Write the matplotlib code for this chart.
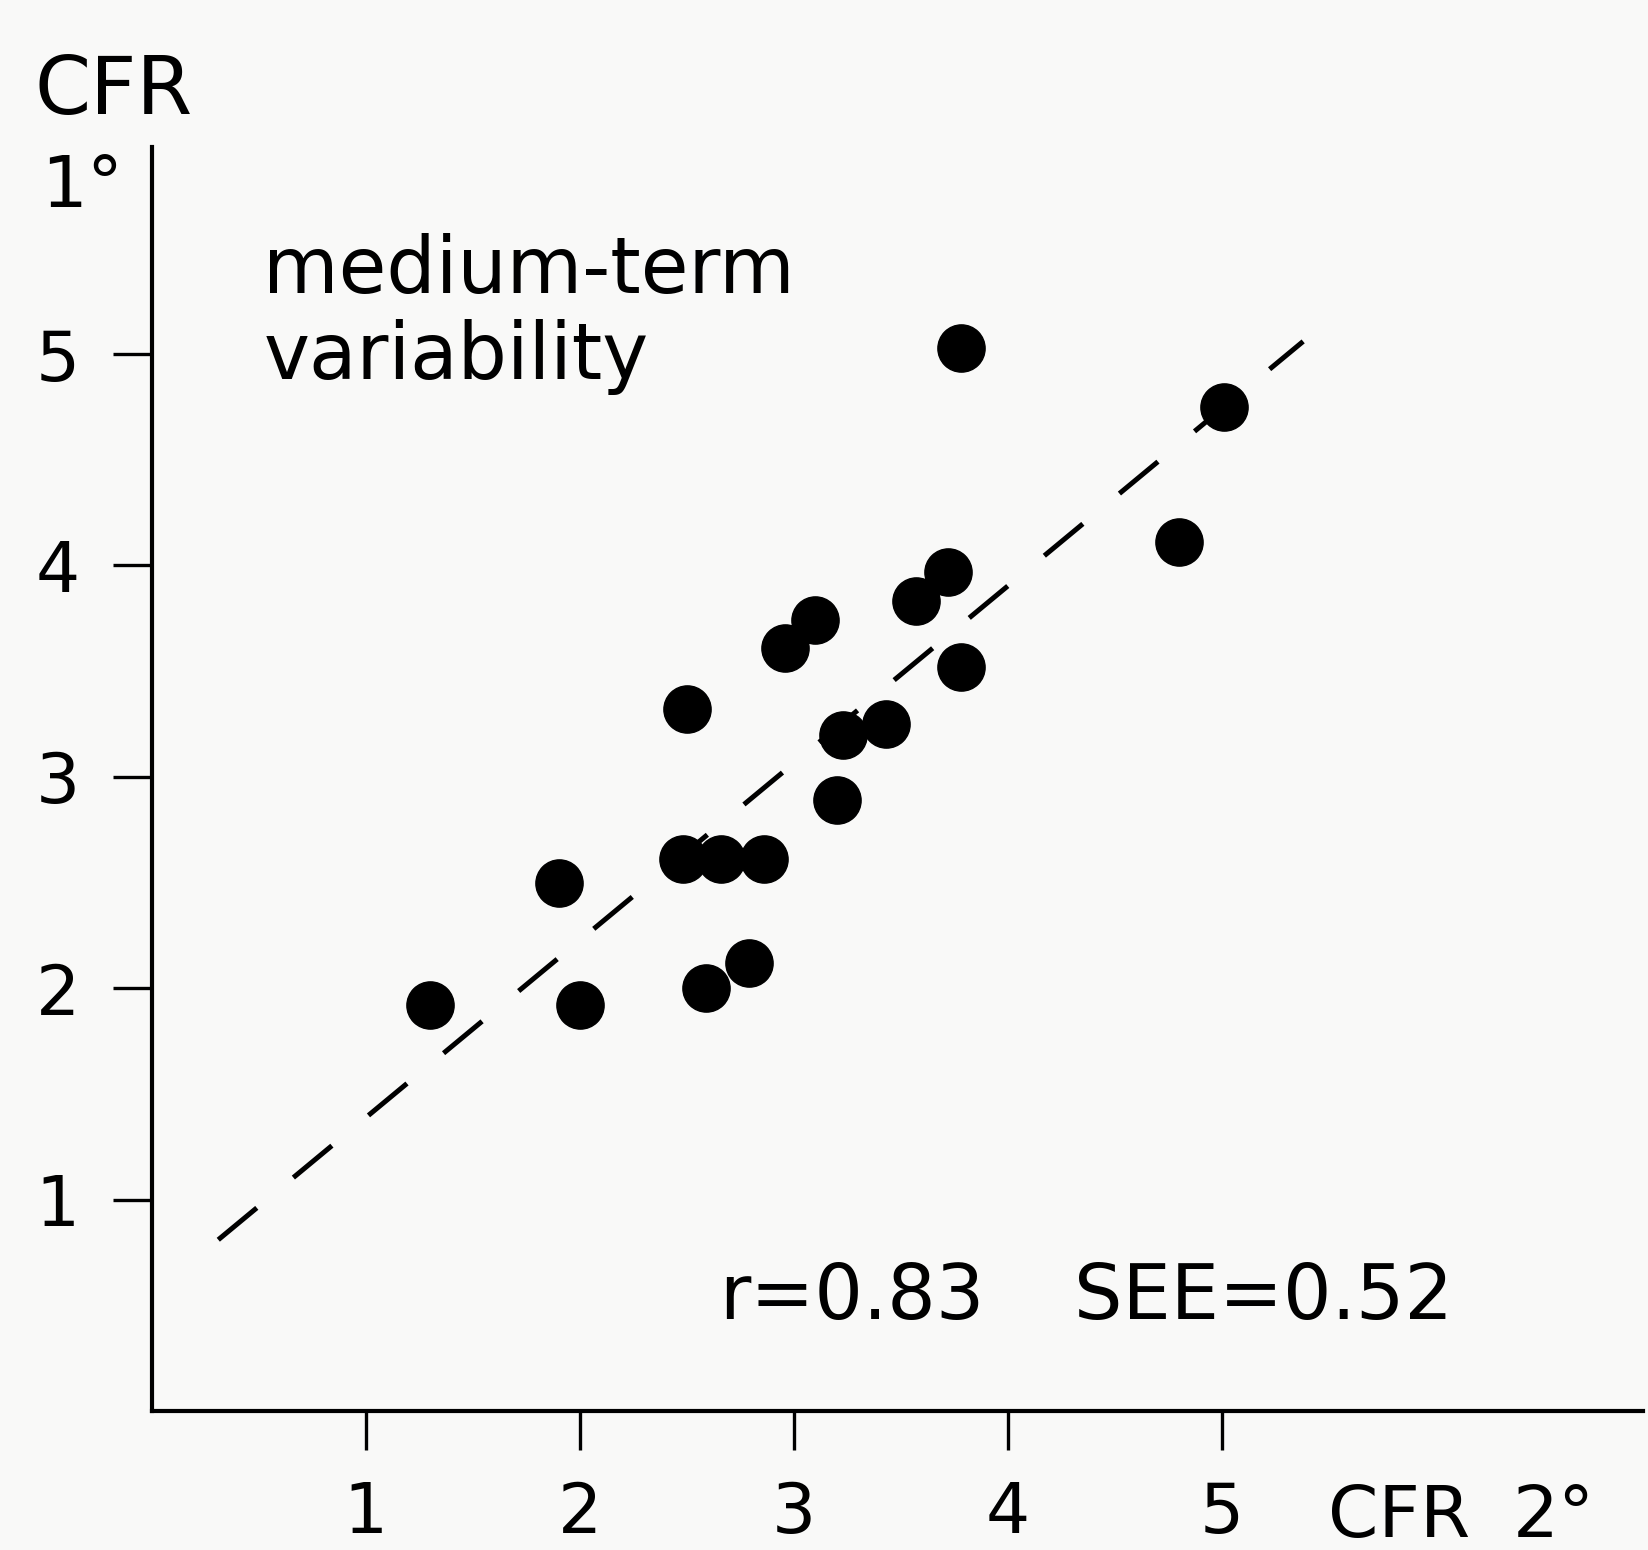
import numpy as np
import matplotlib
matplotlib.use("Agg")
from matplotlib import pyplot as plt

# CFR 2° (x) vs CFR 1° (y), medium-term variability
cfr_2 = [1.30, 2.00, 1.90, 2.59, 2.79, 2.48, 2.66, 2.86, 2.50, 3.20,
         3.23, 3.43, 2.96, 3.10, 3.57, 3.72, 3.78, 3.78, 5.01, 4.80]
cfr_1 = [1.92, 1.92, 2.50, 2.00, 2.12, 2.61, 2.61, 2.61, 3.32, 2.89,
         3.20, 3.25, 3.61, 3.74, 3.83, 3.97, 3.52, 5.03, 4.75, 4.11]

# regression line end points
fit_x = [0.31, 5.38]
fit_y = [0.81, 5.06]

ticks = [1, 2, 3, 4, 5]
tick_labels = ['1', '2', '3', '4', '5']

bg = '#f9f9f8'
fig = plt.figure(figsize=(16.48, 15.5), dpi=100, facecolor=bg)
ax = fig.add_axes([0.0922, 0.0897, 0.905, 0.8155])
ax.set_facecolor(bg)

ax.plot(fit_x, fit_y, color='black', lw=3.6, dashes=(10, 9.5), zorder=2)
ax.plot(cfr_2, cfr_1, 'o', color='black', ms=34, zorder=3)

ax.set_xlim(0, 6.97)
ax.set_ylim(0, 5.98)

for s in ['top', 'right']:
    ax.spines[s].set_visible(False)
for s in ['left', 'bottom']:
    ax.spines[s].set_linewidth(3.0)

ax.set_xticks(ticks)
ax.set_xticklabels(tick_labels)
ax.set_yticks(ticks)
ax.set_yticklabels(tick_labels)
ax.tick_params(axis='both', direction='out', length=28, width=2.4, labelsize=50)
ax.tick_params(axis='x', pad=22)
ax.tick_params(axis='y', pad=24)

# axis labels
fig.text(0.021, 0.966, 'CFR', fontsize=58, ha='left', va='top')
fig.text(0.025, 0.9015, '1°', fontsize=52, ha='left', va='top')
fig.text(0.806, 0.0435, 'CFR', fontsize=52, ha='left', va='top')
fig.text(0.918, 0.0435, '2°', fontsize=52, ha='left', va='top')

ax.text(0.52, 5.575, 'medium-term\nvariability', fontsize=56, ha='left', va='top',
        linespacing=1.18)
ax.text(2.65, 0.435, 'r=0.83', fontsize=55, ha='left', va='baseline')
ax.text(4.31, 0.435, 'SEE=0.52', fontsize=55, ha='left', va='baseline')

plt.savefig('out.png', dpi=100, facecolor=bg)
plt.close()
